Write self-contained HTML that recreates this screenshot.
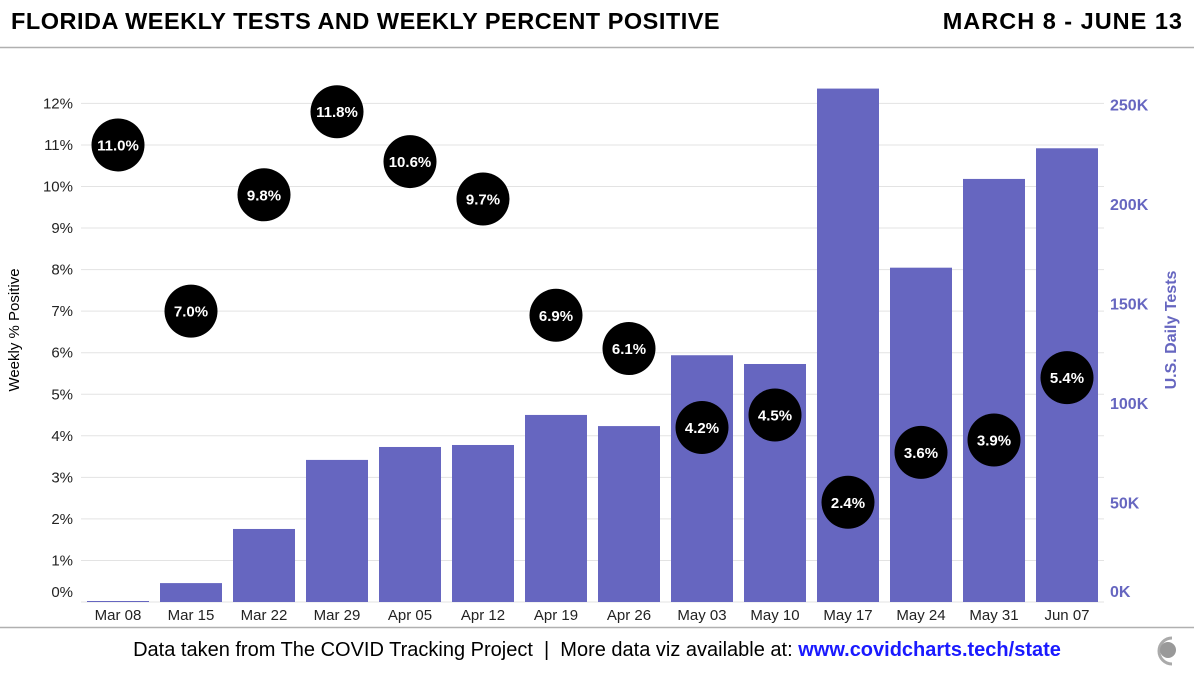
<!DOCTYPE html>
<html><head><meta charset="utf-8"><style>
body{margin:0;background:#fff;width:1194px;height:671px;overflow:hidden;font-family:"Liberation Sans",sans-serif}
</style></head><body>
<svg id="chart" width="1194" height="671" xmlns="http://www.w3.org/2000/svg" font-family="Liberation Sans, sans-serif">
<text x="11" y="29" font-size="23.5" font-weight="bold" letter-spacing="0.5" fill="#000">FLORIDA WEEKLY TESTS AND WEEKLY PERCENT POSITIVE</text>
<text x="1183" y="29" font-size="23.5" font-weight="bold" letter-spacing="1" text-anchor="end" fill="#000">MARCH 8 - JUNE 13</text>
<line x1="0" y1="47.5" x2="1194" y2="47.5" stroke="#b0b0b0" stroke-width="1.5"/>
<g id="grid"></g><g id="bars"></g><g id="dots"></g><g id="axes"></g>
<text transform="translate(19,330) rotate(-90)" font-size="15" text-anchor="middle" fill="#000">Weekly % Positive</text>
<text transform="translate(1176,330) rotate(-90)" font-size="16" font-weight="bold" text-anchor="middle" fill="#6666c0">U.S. Daily Tests</text>
<line x1="0" y1="627.5" x2="1194" y2="627.5" stroke="#b0b0b0" stroke-width="1.5"/>
<text x="597" y="656" font-size="20" text-anchor="middle" fill="#000">Data taken from The COVID Tracking Project&#160;&#160;|&#160;&#160;More data viz available at: <tspan font-weight="bold" fill="#1a1aff">www.covidcharts.tech/state</tspan></text>
<g><path d="M1172 638 A13 13 0 1 0 1172 664" fill="none" stroke="#aaa" stroke-width="3"/><circle cx="1168" cy="650" r="8" fill="#999"/></g>
</svg>
<script>
const categories=["Mar 08","Mar 15","Mar 22","Mar 29","Apr 05","Apr 12","Apr 19","Apr 26","May 03","May 10","May 17","May 24","May 31","Jun 07"];
const tests=[0.5,9.5,36.7,71.4,77.9,78.9,94,88.4,124,119.6,258,168,212.6,228];
const positive=[11.0,7.0,9.8,11.8,10.6,9.7,6.9,6.1,4.2,4.5,2.4,3.6,3.9,5.4];
const pctTicks=[0,1,2,3,4,5,6,7,8,9,10,11,12];
const testTicks=[0,50,100,150,200,250];
const NS="http://www.w3.org/2000/svg";
const x=i=>118+73*i;
const yP=v=>602-v*41.55;
const yT=v=>602-v*1.99;
function mk(t,a,p){const e=document.createElementNS(NS,t);for(const k in a)e.setAttribute(k,a[k]);p.appendChild(e);return e;}
const grid=document.getElementById('grid'),bars=document.getElementById('bars'),dots=document.getElementById('dots'),axes=document.getElementById('axes');
pctTicks.forEach(v=>{
 const l=mk('line',{x1:81,x2:1104,y1:yP(v),y2:yP(v),stroke:'#e3e3e3','stroke-width':1},grid);
 
 
 const t=mk('text',{x:73,y:(v===0?591:yP(v)-1)+6,'font-size':15,'text-anchor':'end',fill:'#222'},axes);
 t.textContent=v+'%';
 
 
});
testTicks.forEach(v=>{
 const t=mk('text',{x:1110,y:(v===0?591:yT(v))+6,'font-size':16,'font-weight':'bold',fill:'#6666c0'},axes);
 t.textContent=v+'K';
 
 
});
categories.forEach((c,i)=>{
 const r=mk('rect',{x:x(i)-31,width:62,y:yT(tests[i]),height:602-yT(tests[i]),fill:'#6666c0'},bars);
 
 
 const t=mk('text',{x:x(i),y:620,'font-size':15,'text-anchor':'middle',fill:'#222'},axes);
 t.textContent=c;
 
 
 const g=mk('g',{},dots);
 
 
 mk('circle',{cx:x(i),cy:yP(positive[i]),r:26.5,fill:'#000'},g);
 const lt=mk('text',{x:x(i),y:yP(positive[i])+5.5,'font-size':15,'font-weight':'bold','text-anchor':'middle',fill:'#fff'},g);
 lt.textContent=positive[i].toFixed(1)+'%';
});
</script>
</body></html>
